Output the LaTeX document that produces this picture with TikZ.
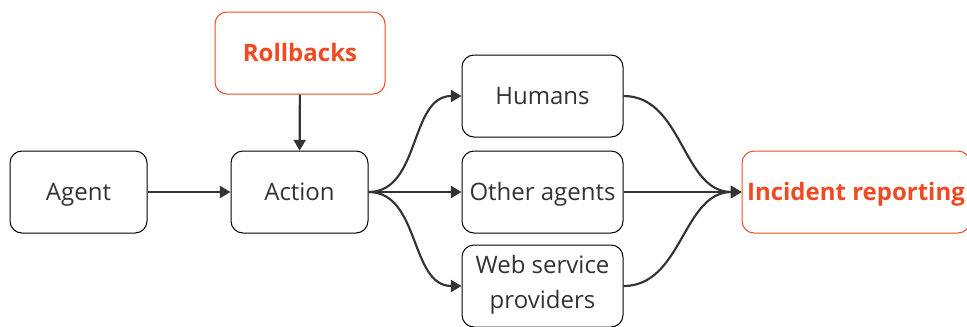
\documentclass[tikz,border=0pt]{standalone}
\usepackage{fontspec}
\setmainfont{Open Sans}
\usetikzlibrary{arrows.meta}
\definecolor{hot}{HTML}{F04A22}
\definecolor{ink}{HTML}{333333}
\newcommand\boxstrut{\rule[-6pt]{0pt}{24pt}}
\tikzset{
	box/.style={draw=black, line width=0.75pt, rounded corners=9pt, minimum width=102.75pt, minimum height=61.5pt, align=center, font=\fontsize{18}{26}\selectfont, text=ink, execute at begin node=\boxstrut},
	hotbox/.style={box, draw=hot, text=hot, font=\fontsize{18}{26}\selectfont\bfseries},
	link/.style={draw=ink, line width=1.6pt, -{Triangle[length=8pt, width=9pt]}}
}

\begin{document}
\begin{tikzpicture}[x=0.75pt, y=-0.75pt]
		%%%%% START %%%%%
		
		\useasboundingbox (0, 0) rectangle (967, 326);
		
		\node[box] (agent) at (78.5, 192) {Agent};
		\node[box] (action) at (299.5, 192) {Action};
		\node[hotbox, minimum width=127.5pt] (rollbacks) at (300, 53) {Rollbacks};
		
		\node[box, minimum width=120.75pt] (humans) at (542.5, 96) {Humans};
		\node[box, minimum width=120.75pt] (others) at (542.5, 192) {Other agents};
		\node[box, minimum width=120.75pt] (websvc) at (542.5, 286) {Web service\\providers};
		
		\node[hotbox, minimum width=171pt] (incident) at (856, 192) {Incident reporting};
		
		\draw[link] (agent) -- (action);
		\draw[link] (rollbacks) -- (action);
		
		\draw[link] (action.east) to[out=0, in=180] (humans.west);
		\draw[link] (action.east) -- (others.west);
		\draw[link] (action.east) to[out=0, in=180] (websvc.west);
		
		\draw[link] (humans.east) to[out=0, in=180] (incident.west);
		\draw[link] (others.east) -- (incident.west);
		\draw[link] (websvc.east) to[out=0, in=180] (incident.west);
		
		%%%%% END %%%%%
	\end{tikzpicture}
\end{document}
